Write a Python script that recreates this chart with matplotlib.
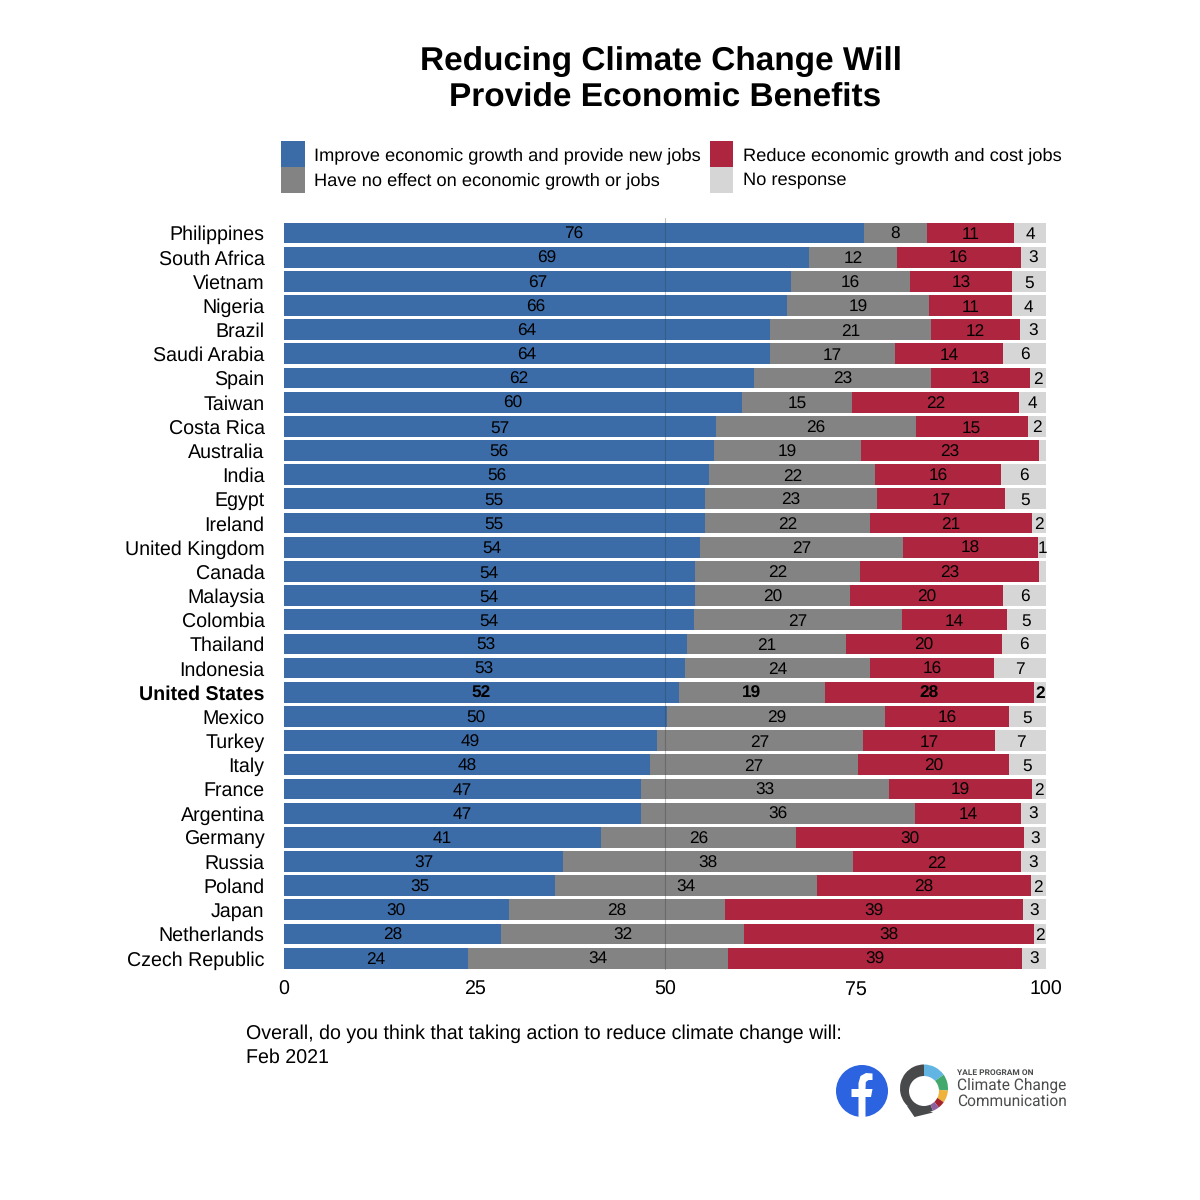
import numpy as np
import matplotlib
matplotlib.use("Agg")
import matplotlib.pyplot as plt
from matplotlib.patches import Circle, Wedge, Polygon

plt.rcParams['font.family'] = ['Liberation Sans', 'DejaVu Sans']
plt.rcParams['text.hinting'] = 'no_hinting'

countries = ["Philippines", "South Africa", "Vietnam", "Nigeria", "Brazil", "Saudi Arabia",
             "Spain", "Taiwan", "Costa Rica", "Australia", "India", "Egypt", "Ireland",
             "United Kingdom", "Canada", "Malaysia", "Colombia", "Thailand", "Indonesia",
             "United States", "Mexico", "Turkey", "Italy", "France", "Argentina", "Germany",
             "Russia", "Poland", "Japan", "Netherlands", "Czech Republic"]

# 柱子宽度
improve = [76.1, 68.9, 66.5, 66.0, 63.8, 63.8, 61.7, 60.1, 56.7, 56.4, 55.8, 55.2, 55.2, 54.6, 53.9, 53.9,
           53.8, 52.9, 52.6, 51.8, 50.3, 48.9, 48.0, 46.9, 46.9, 41.6, 36.6, 35.6, 29.5, 28.5, 24.1]
no_effect = [8.3, 11.5, 15.7, 18.6, 21.1, 16.4, 23.2, 14.4, 26.2, 19.3, 21.8, 22.6, 21.7, 26.6, 21.7, 20.4,
             27.3, 20.9, 24.3, 19.2, 28.6, 27.1, 27.3, 32.5, 35.9, 25.6, 38.1, 34.3, 28.4, 31.9, 34.2]
reduce_jobs = [11.4, 16.3, 13.3, 10.9, 11.7, 14.2, 13.0, 22.0, 14.7, 23.4, 16.5, 16.8, 21.3, 17.8, 23.5, 20.1,
               13.8, 20.4, 16.3, 27.4, 16.2, 17.3, 19.8, 18.8, 13.9, 29.9, 22.0, 28.1, 39.1, 38.0, 38.6]
no_response = [4.2, 3.3, 4.5, 4.5, 3.4, 5.6, 2.1, 3.5, 2.4, 0.9, 5.9, 5.4, 1.8, 1.0, 0.9, 5.6,
               5.1, 5.8, 6.8, 1.6, 4.9, 6.7, 4.9, 1.8, 3.3, 2.9, 3.3, 2.0, 3.0, 1.6, 3.1]

# 柱子上显示的数字
improve_labels = [76, 69, 67, 66, 64, 64, 62, 60, 57, 56, 56, 55, 55, 54, 54, 54,
                  54, 53, 53, 52, 50, 49, 48, 47, 47, 41, 37, 35, 30, 28, 24]
no_effect_labels = [8, 12, 16, 19, 21, 17, 23, 15, 26, 19, 22, 23, 22, 27, 22, 20,
                    27, 21, 24, 19, 29, 27, 27, 33, 36, 26, 38, 34, 28, 32, 34]
reduce_labels = [11, 16, 13, 11, 12, 14, 13, 22, 15, 23, 16, 17, 21, 18, 23, 20,
                 14, 20, 16, 28, 16, 17, 20, 19, 14, 30, 22, 28, 39, 38, 39]
none_labels = [4, 3, 5, 4, 3, 6, 2, 4, 2, "", 6, 5, 2, 1, "", 6,
               5, 6, 7, 2, 5, 7, 5, 2, 3, 3, 3, 2, 3, 2, 3]

series_names = ["Improve economic growth and provide new jobs", "Have no effect on economic growth or jobs",
                "Reduce economic growth and cost jobs", "No response"]
colors = ["#3c6ca8", "#838383", "#ae2540", "#d6d6d6"]
xticks = [0, 25, 50, 75, 100]

W = 1200.0
fig = plt.figure(figsize=(12, 12), dpi=100)
ax = fig.add_axes([284 / W, 1 - 970 / W, 762 / W, 752 / W])

y = np.arange(len(countries))
left = np.zeros(len(countries))
containers = []
for vals, labs, name, col in zip([improve, no_effect, reduce_jobs, no_response],
                                 [improve_labels, no_effect_labels, reduce_labels, none_labels],
                                 series_names, colors):
    bars = ax.barh(y, vals, left=left, height=0.86, color=col, label=name, linewidth=0)
    texts = ax.bar_label(bars, labels=[str(v) for v in labs], label_type='center', fontsize=12.4, color='black')
    for t in texts:
        t.xyann = (0, -1.2)  # 数字稍微往下移
    texts[countries.index("United States")].set_fontweight('bold')
    containers.append(bars)
    left = left + np.array(vals)

ax.axvline(50, color='#333333', alpha=0.3, linewidth=0.8, zorder=5)
ax.set_xlim(0, 100)
ax.set_ylim(30.49, -0.62)
ax.set_xticks(xticks)
ax.set_yticks(y)
ax.set_yticklabels(countries)
ax.tick_params(axis='both', length=0, labelsize=14.1)
ax.tick_params(axis='y', pad=14)
ax.tick_params(axis='x', pad=7.5)
ax.get_yticklabels()[countries.index("United States")].set_fontweight('bold')
for s in ax.spines.values():
    s.set_visible(False)

fig.text(660.5 / W, 1 - 62 / W, "Reducing Climate Change Will", fontsize=24, fontweight='bold', ha='center', va='center')
fig.text(665 / W, 1 - 98 / W, "Provide Economic Benefits", fontsize=24, fontweight='bold', ha='center', va='center')

fig.legend(handles=containers, ncol=2, frameon=False, fontsize=13.15, loc='upper left',
           bbox_to_anchor=(275.5 / W, 1 - 135.5 / W), handlelength=1.3, handleheight=1.8,
           handletextpad=0.5, columnspacing=0.5, labelspacing=0.0, borderpad=0.3, borderaxespad=0)

fig.text(246 / W, 1 - 1034 / W, "Overall, do you think that taking action to reduce climate change will:",
         fontsize=14.15, va='center')
fig.text(246 / W, 1 - 1058 / W, "Feb 2021", fontsize=14.15, va='center')

# 右下角 logo，用像素坐标画
logo = fig.add_axes([0, 0, 1, 1], zorder=-1)
logo.set_xlim(0, 1200)
logo.set_ylim(1200, 0)
logo.axis('off')

logo.add_patch(Circle((862, 1091), 26, color="#2c63e0", lw=0))
logo.add_patch(Polygon([(858.5, 1117), (858.5, 1097), (851.5, 1097), (851.5, 1089), (858.5, 1089), (858.5, 1083),
                        (860.5, 1076), (866, 1073), (872.5, 1073.5), (872.5, 1080), (868.5, 1080), (865.8, 1082),
                        (865.5, 1089), (872.5, 1089), (871, 1097), (865.5, 1097), (865.5, 1117)],
                       closed=True, color='white', lw=0))

center = (924, 1088.5)
ring = [(35, 90, "#62b5e3"), (-5, 35, "#43a86d"), (-35, -5, "#efb23b"),
        (-52, -35, "#a3232f"), (-68, -52, "#8d5f9f")]
logo.add_patch(Polygon([(907, 1106), (914.5, 1117), (933, 1112.5), (920, 1108)], closed=True, color="#47494b", lw=0))
logo.add_patch(Wedge(center, 24, 68, 270, color="#47494b", lw=0))
for a0, a1, col in ring:
    # y 轴反向，角度取负
    logo.add_patch(Wedge(center, 24, -a1, -a0, color=col, lw=0))
logo.add_patch(Circle((924, 1091), 15, color='white', lw=0))

logo.text(957, 1073, "YALE PROGRAM ON", fontsize=6, fontweight='bold', color="#4a4c4e",
          family=['Roboto', 'DejaVu Sans'], va='center')
logo.text(957, 1085.5, "Climate Change", fontsize=11.2, color="#4a4c4e", family=['Roboto', 'DejaVu Sans'], va='center')
logo.text(957, 1101, "Communication", fontsize=11.2, color="#4a4c4e", family=['Roboto', 'DejaVu Sans'], va='center')

fig.savefig("out.png", dpi=100)
